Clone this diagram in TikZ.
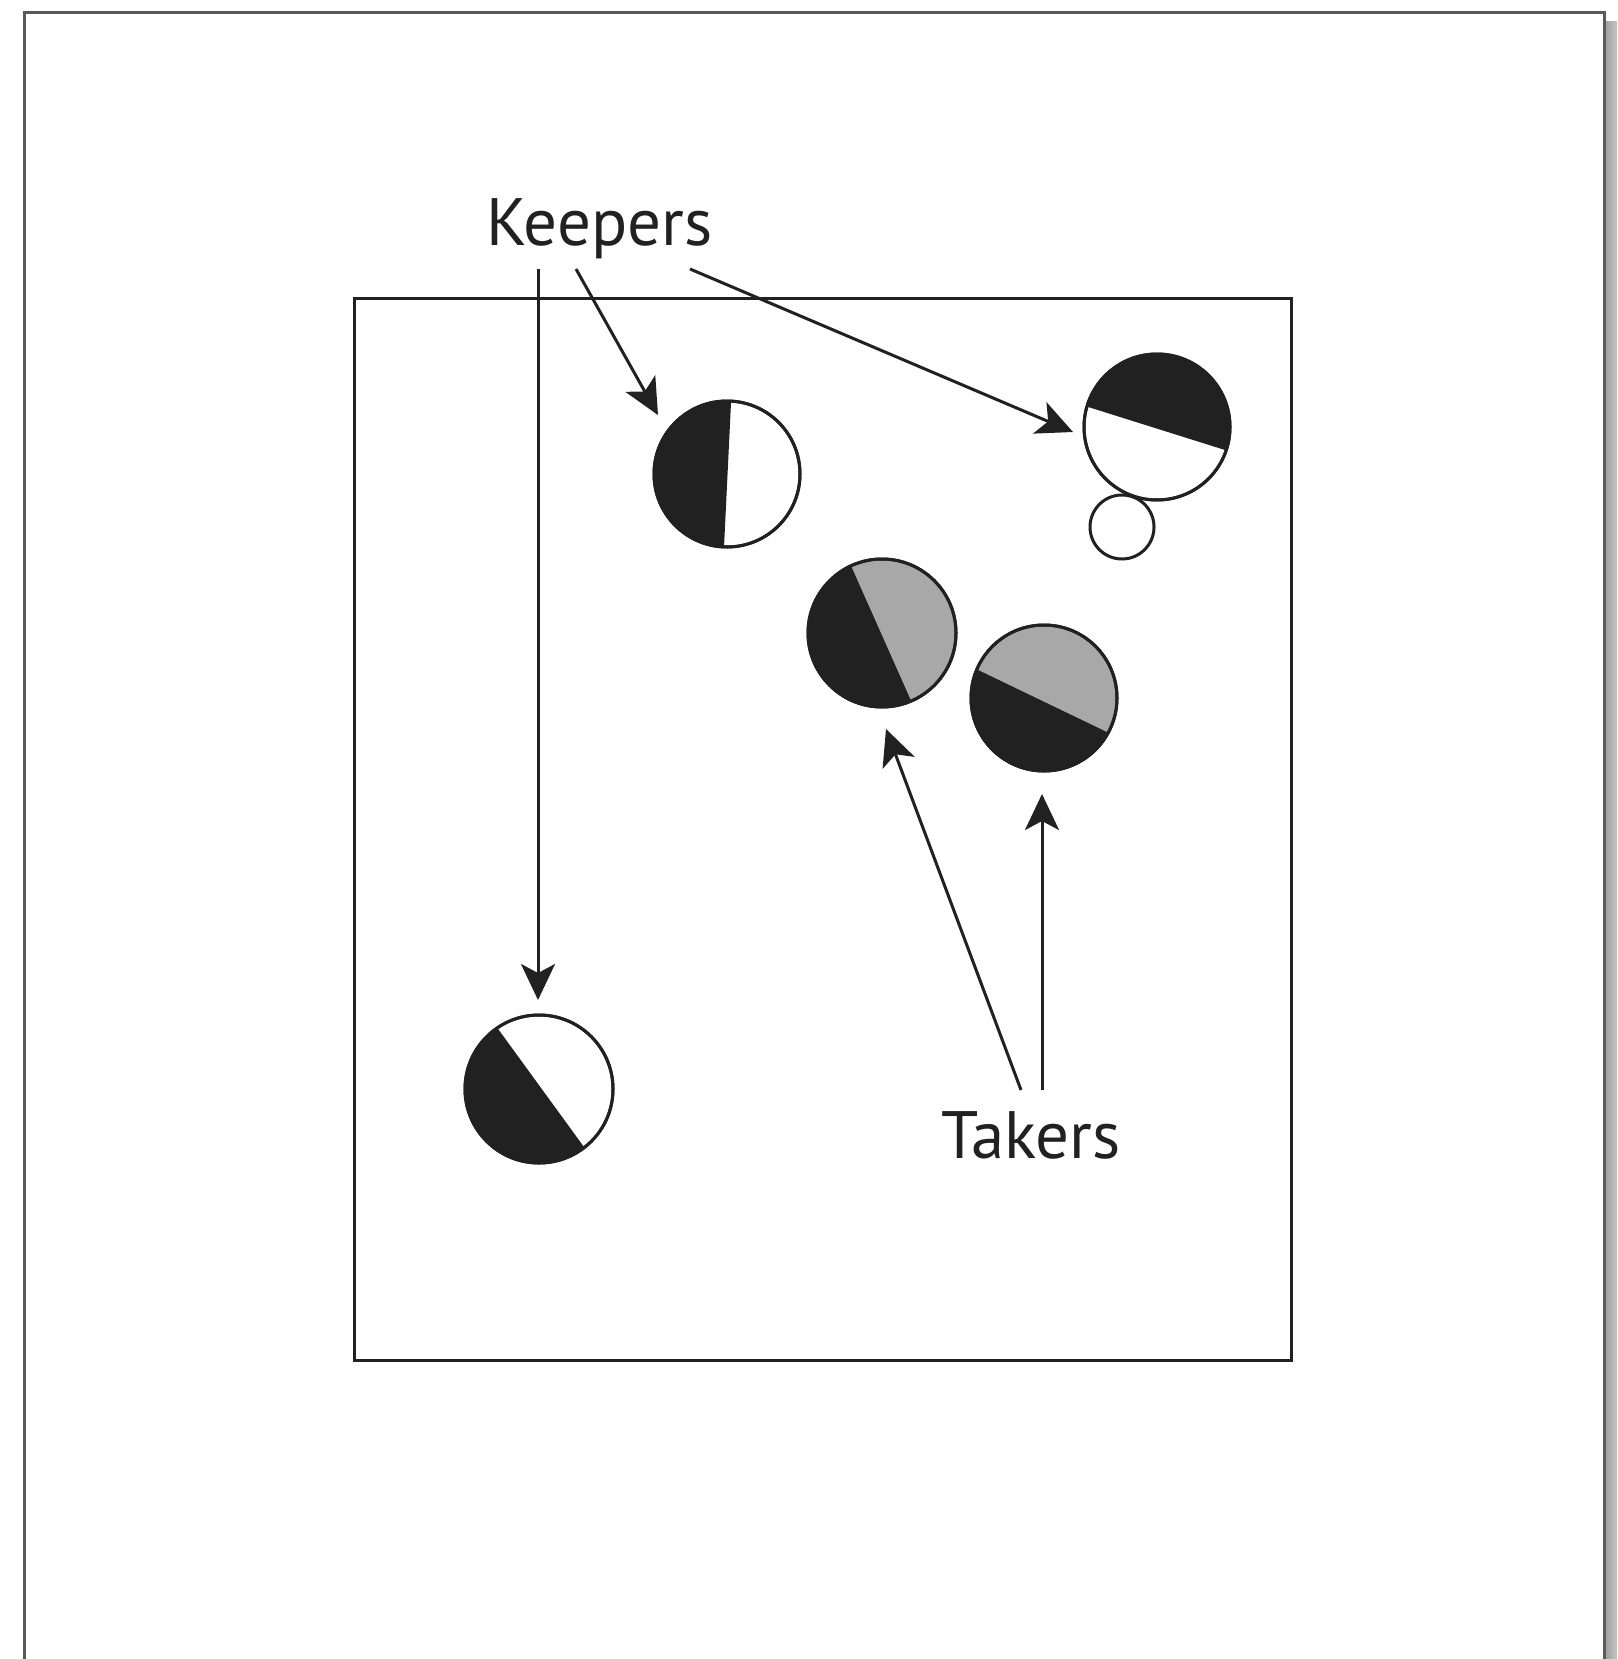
\documentclass[tikz,border=0pt]{standalone}
\usepackage{fontspec}
\setmainfont{PT Sans}
\usetikzlibrary{arrows.meta}
\definecolor{ink}{gray}{0.13}
\definecolor{halfgray}{gray}{0.66}
\definecolor{framegray}{gray}{0.35}
\begin{document}
\begin{tikzpicture}[x=1pt,y=-1pt,
  disc/.style={circle, draw=ink, line width=3pt, minimum size=#1, inner sep=0pt},
  rim/.style={draw=ink, line width=3pt},
  arr/.style={draw=ink, line width=3pt, -{Stealth[length=36pt,width=34pt,inset=9pt]}},
  lbl/.style={anchor=base west, inner sep=0pt, text=ink, font=\fontsize{67}{72}\selectfont}]
\useasboundingbox (0,0) rectangle (1617,1659);
\fill[white] (0,0) rectangle (1617,1659);
% page frame with shadow
\shade[left color=gray!75, right color=gray!45] (1605,22) rectangle (1617,1659);
\draw[framegray, line width=3pt] (24,1659) -- (24,13) -- (1604,13) -- (1604,1659);
% field
\draw[ink, line width=3pt] (354,298) rectangle (1291,1360);
% keepers
\node[disc=146pt, fill=white] (k1) at (727,474) {};
\node[disc=146pt, fill=white] (k2) at (1157,427) {};
\node[disc=64pt, fill=white] (ball) at (1122,527) {};
\node[disc=148pt, fill=white] (k3) at (539,1089) {};
% takers
\node[disc=148pt, fill=halfgray] (t1) at (882,633) {};
\node[disc=146pt, fill=halfgray] (t2) at (1044,698) {};
% dark halves
\begin{scope}
  \clip (k1.center) circle[radius=73];
  \fill[ink] (736,300) -- (719,650) -- (600,650) -- (600,300) -- cycle;
\end{scope}
\begin{scope}
  \clip (k2.center) circle[radius=73];
  \fill[ink] (1050,395) -- (1260,461) -- (1260,300) -- (1050,300) -- cycle;
\end{scope}
\begin{scope}
  \clip (k3.center) circle[radius=74];
  \fill[ink] (477,1000) -- (608,1180) -- (450,1180) -- (450,1000) -- cycle;
\end{scope}
\begin{scope}
  \clip (t1.center) circle[radius=74];
  \fill[ink] (839.5,540) -- (924,730) -- (780,730) -- (780,540) -- cycle;
\end{scope}
\begin{scope}
  \clip (t2.center) circle[radius=73];
  \fill[ink] (950,656.5) -- (1140,748) -- (1140,800) -- (950,800) -- cycle;
\end{scope}
\draw[rim] (k1.center) circle[radius=73];
\draw[rim] (k2.center) circle[radius=73];
\draw[rim] (k3.center) circle[radius=74];
\draw[rim] (t1.center) circle[radius=74];
\draw[rim] (t2.center) circle[radius=73];
% labels
\node[lbl] (keepers) at (486,245) {Keepers};
\node[lbl] (takers) at (941,1158) {Takers};
% connector end points
\coordinate (ka) at (538,269);
\coordinate (kaE) at (538,1000);
\coordinate (kb) at (576,269);
\coordinate (kbE) at (658,415);
\coordinate (kc) at (690,269);
\coordinate (kcE) at (1073,432);
\coordinate (ta) at (1021,1090);
\coordinate (taE) at (886,729);
\coordinate (tb) at (1042,1090);
\coordinate (tbE) at (1042,794);
\draw[arr] (ka) -- (kaE);
\draw[arr] (kb) -- (kbE);
\draw[arr] (kc) -- (kcE);
\draw[arr] (ta) -- (taE);
\draw[arr] (tb) -- (tbE);
\end{tikzpicture}
\end{document}
